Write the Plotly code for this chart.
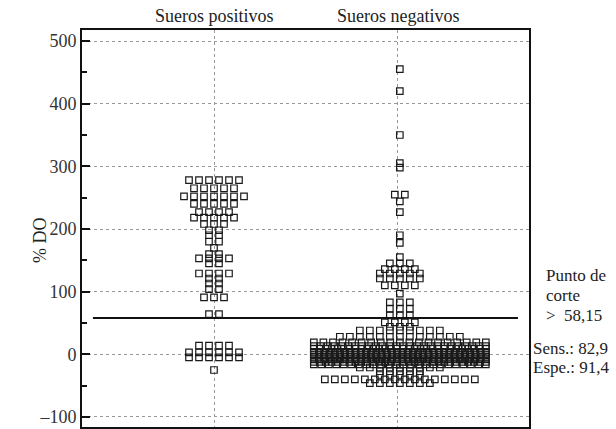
import plotly.graph_objects as go

# ---- data ----
categories = ["Sueros positivos", "Sueros negativos"]

pos_values = [278, 265, 252, 240, 227, 218, 208, 198, 190, 180, 170, 160, 153,
              145, 129, 121, 113, 104, 91, 64, 14, 3, -5, -25]
pos_counts = [6, 5, 7, 5, 4, 5, 3, 2, 2, 2, 1, 2, 4,
              2, 4, 2, 2, 2, 3, 2, 4, 6, 6, 1]

neg_values = [455, 420, 350, 305, 298, 255, 244, 227, 190, 178, 155, 145, 136,
              129, 121, 110, 97, 83, 73, 62, 51, 44, 38, 28, 19, 13, 9, 4, 0,
              -4, -8, -12, -16, -21, -27, -33, -40, -46]
neg_counts = [1, 1, 1, 1, 1, 2, 1, 1, 1, 1, 1, 3, 4,
              5, 5, 4, 1, 3, 3, 3, 4, 3, 9, 13, 19, 26, 30, 34, 34,
              34, 34, 30, 24, 9, 5, 5, 16, 7]

cutoff = 58.15
note_lines = ["Punto de", "corte", ">  58,15"]
stat_lines = ["Sens.: 82,9", "Espe.: 91,4"]

y_ticks = [-100, 0, 100, 200, 300, 400, 500]

# ---- layout geometry ----
W, H = 616, 429
ML, MR, MT, MB = 82, 87, 30, 2
X_RANGE = [0.2826, 2.712]
Y_RANGE = [-116, 517.6]
plot_w = W - ML - MR
plot_h = H - MT - MB
px_per_x = plot_w / (X_RANGE[1] - X_RANGE[0])

FONT = "Liberation Serif, Times New Roman, serif"


def dot_rows(values, counts, center, step_px=10, max_w_px=172):
    xs, ys = [], []
    for v, n in zip(values, counts):
        s = step_px if n <= 1 else min(step_px, max_w_px / (n - 1))
        for i in range(n):
            xs.append(center + (i - (n - 1) / 2) * s / px_per_x)
            ys.append(v)
    return xs, ys


px, py = dot_rows(pos_values, pos_counts, 1)
nx, ny = dot_rows(neg_values, neg_counts, 2.01)

marker = dict(symbol="square-open", size=6.5, color="#1a1a1a",
              line=dict(width=1.2, color="#1a1a1a"))

fig = go.Figure()
fig.add_trace(go.Scatter(x=px, y=py, mode="markers", marker=marker,
                         showlegend=False, hoverinfo="y"))
fig.add_trace(go.Scatter(x=nx, y=ny, mode="markers", marker=marker,
                         showlegend=False, hoverinfo="y"))
fig.add_trace(go.Scatter(x=[0.342, 2.652], y=[cutoff, cutoff], mode="lines",
                         line=dict(color="#111", width=2),
                         showlegend=False, hoverinfo="skip"))

annotations = []
for i, c in enumerate(categories):
    annotations.append(dict(x=i + 1, y=1, xref="x", yref="paper",
                            text=c, showarrow=False, yanchor="bottom",
                            xanchor="center", yshift=2,
                            font=dict(family=FONT, size=18, color="#222")))

annotations.append(dict(x=(40 - ML) / plot_w, y=(H - MB - 240) / plot_h,
                        xref="paper", yref="paper", xanchor="center",
                        yanchor="middle",
                        text="% DO", textangle=-90, showarrow=False,
                        font=dict(family=FONT, size=18, color="#222")))

for txt, ypix in zip(note_lines, [275, 295, 315]):
    annotations.append(dict(x=(544 - ML) / plot_w, y=(H - MB - ypix) / plot_h,
                            xref="paper", yref="paper", text=txt, showarrow=False,
                            xanchor="left", yanchor="middle",
                            font=dict(family=FONT, size=17, color="#222")))
for txt, ypix in zip(stat_lines, [348, 367]):
    annotations.append(dict(x=(531 - ML) / plot_w, y=(H - MB - ypix) / plot_h,
                            xref="paper", yref="paper", text=txt, showarrow=False,
                            xanchor="left", yanchor="middle",
                            font=dict(family=FONT, size=17, color="#222")))

fig.update_layout(
    width=W, height=H,
    margin=dict(l=ML, r=MR, t=MT, b=MB, autoexpand=False),
    paper_bgcolor="white", plot_bgcolor="white",
    annotations=annotations,
    xaxis=dict(range=X_RANGE, tickvals=[1, 2], showticklabels=False, ticks="",
               showgrid=True, gridcolor="#999", griddash="dot", gridwidth=1,
               zeroline=False, showline=True, mirror=True,
               linecolor="#111", linewidth=2, automargin=False),
    yaxis=dict(range=Y_RANGE, tickvals=y_ticks,
               ticktext=[("\u2013" + str(-t)) if t < 0 else str(t) for t in y_ticks],
               ticks="inside", ticklen=8, tickwidth=2, tickcolor="#111",
               minor=dict(ticks="inside", ticklen=5, tickwidth=1.5, dtick=50,
                          tick0=50, tickcolor="#111", showgrid=False),
               showgrid=True, gridcolor="#999", griddash="dot", gridwidth=1,
               zeroline=False, showline=True, mirror=True,
               linecolor="#111", linewidth=2, automargin=False,
               tickfont=dict(family=FONT, size=18, color="#333")),
)

fig.write_html("out.html",
               config={"displayModeBar": False},
               post_script="document.body.style.margin='0px';"
                           "document.body.style.padding='0px';")
